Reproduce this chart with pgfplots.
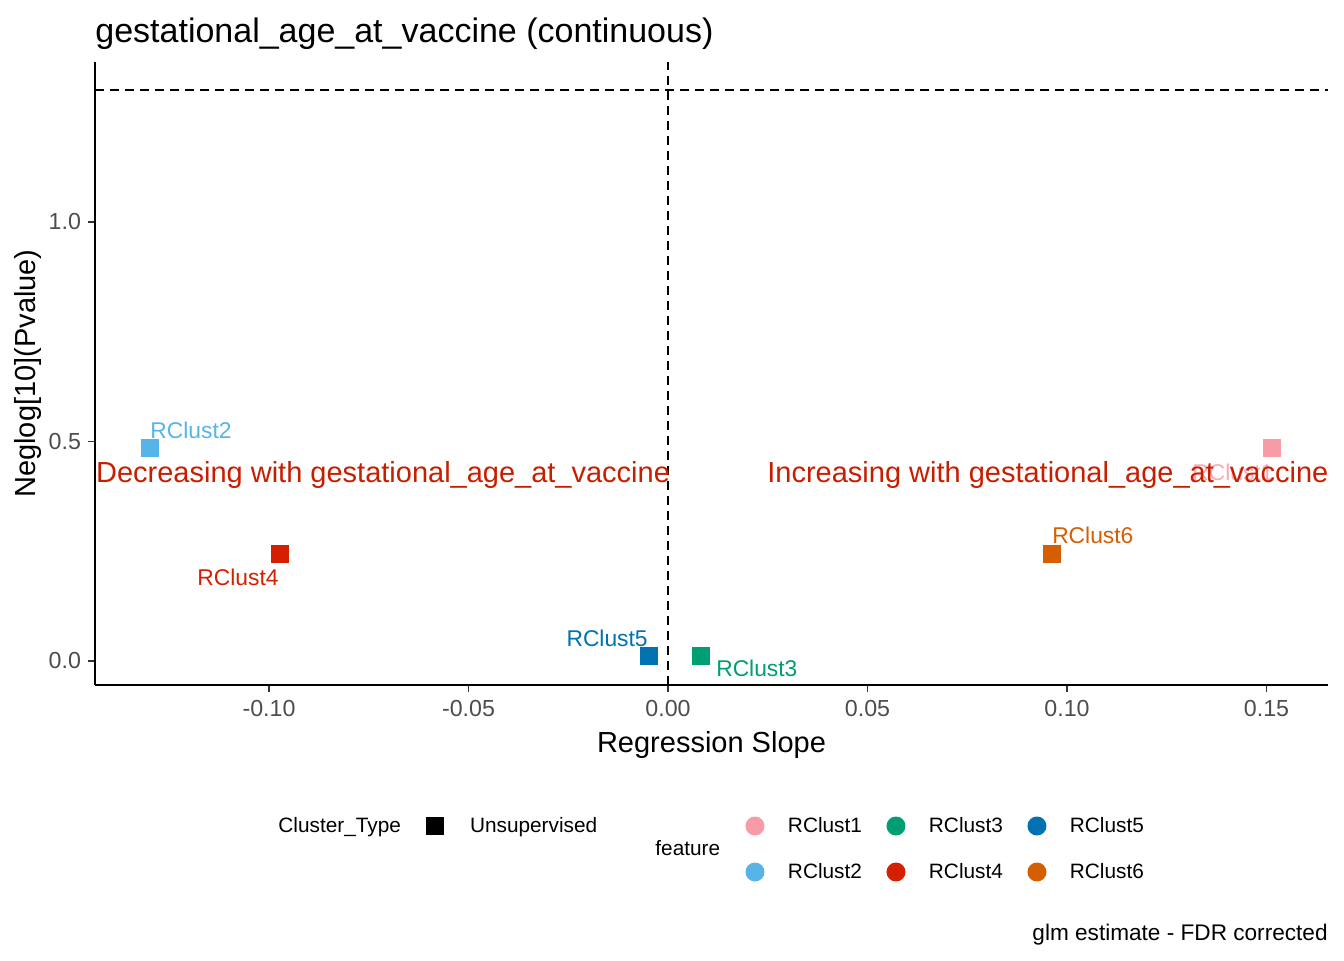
\documentclass[border=0pt]{standalone}
\usepackage{fontspec}
\setmainfont{Liberation Sans}
\usepackage{pgfplots}
\pgfplotsset{compat=1.18}
\definecolor{cA}{RGB}{247,156,166}
\definecolor{cB}{HTML}{56B4E9}
\definecolor{cC}{HTML}{009E73}
\definecolor{cD}{RGB}{212,32,0}
\definecolor{cE}{HTML}{0072B2}
\definecolor{cF}{HTML}{D55E00}
\definecolor{annred}{RGB}{200,30,0}
\definecolor{tickgray}{HTML}{333333}
\definecolor{labgray}{HTML}{4D4D4D}
\begin{document}
\begin{tikzpicture}
\useasboundingbox (0,0) rectangle (672pt,480pt);
\begin{axis}[
 at={(47.5pt,137.5pt)}, anchor=south west,
 scale only axis, width=616.5pt, height=311.5pt,
 xmin=-0.1436, xmax=0.1654, ymin=-0.0547, ymax=1.364,
 axis x line*=bottom, axis y line*=left,
 axis line style={line width=0.9pt, black, -},
 xtick={-0.1,-0.05,0,0.05,0.1,0.15},
 xticklabels={-0.10,-0.05,0.00,0.05,0.10,0.15},
 ytick={0,0.5,1}, yticklabels={0.0,0.5,1.0},
 tick align=outside, major tick length=3.5pt,
 tick style={line width=0.9pt, color=tickgray},
 ticklabel style={font=\fontsize{11.6}{13}\selectfont, text=labgray},
 xticklabel style={yshift=-0.5pt},
 clip=false,
 legend columns=3,
 legend cell align=left,
 legend style={draw=none, fill=none, inner sep=0pt, outer sep=0pt,
   at={(0.52149,-0.21027)}, anchor=north west,
   font=\fontsize{10.4}{12}\selectfont,
   nodes={inner sep=0pt, text height=8pt, text depth=2pt},
   row sep=13pt,
   /tikz/every odd column/.append style={column sep=8pt},
   /tikz/every even column/.append style={column sep=8.5pt}},
]
\addplot[line width=0.9pt, dash pattern=on 4.5pt off 3pt, forget plot] coordinates {(0,-0.0547) (0,1.364)};
\addplot[line width=0.9pt, dash pattern=on 4.5pt off 3pt, forget plot] coordinates {(-0.1436,1.30103) (0.1654,1.30103)};
\addplot[only marks, mark=square*, mark size=4.25pt, color=cA, forget plot] coordinates {(0.1514,0.485)};
\addplot[only marks, mark=square*, mark size=4.25pt, color=cB, forget plot] coordinates {(-0.1298,0.485)};
\addplot[only marks, mark=square*, mark size=4.25pt, color=cC, forget plot] coordinates {(0.0083,0.011)};
\addplot[only marks, mark=square*, mark size=4.25pt, color=cD, forget plot] coordinates {(-0.0972,0.244)};
\addplot[only marks, mark=square*, mark size=4.25pt, color=cE, forget plot] coordinates {(-0.0048,0.011)};
\addplot[only marks, mark=square*, mark size=4.25pt, color=cF, forget plot] coordinates {(0.0962,0.244)};
\node[anchor=west, inner sep=0pt, text=cB, font=\fontsize{11.4}{13}\selectfont] at (axis cs:-0.1298,0.526) {RClust2};
\node[anchor=east, inner sep=0pt, text=cD, font=\fontsize{11.4}{13}\selectfont] at (axis cs:-0.0975,0.191) {RClust4};
\node[anchor=east, inner sep=0pt, text=cE, font=\fontsize{11.4}{13}\selectfont] at (axis cs:-0.0050,0.0524) {RClust5};
\node[anchor=west, inner sep=0pt, text=cC, font=\fontsize{11.4}{13}\selectfont] at (axis cs:0.0120,-0.016) {RClust3};
\node[anchor=west, inner sep=0pt, text=cF, font=\fontsize{11.4}{13}\selectfont] at (axis cs:0.0962,0.285) {RClust6};
\node[anchor=west, inner sep=0pt, text=cA, opacity=0.85, font=\fontsize{11.4}{13}\selectfont] at (axis cs:0.1313,0.4305) {RClust1};
\node[inner sep=0pt, text=annred, font=\fontsize{14.5}{16}\selectfont] at (axis cs:-0.0714,0.4235) {Decreasing with gestational\_age\_at\_vaccine};
\node[inner sep=0pt, text=annred, font=\fontsize{14.5}{16}\selectfont] at (axis cs:0.0952,0.4235) {Increasing with gestational\_age\_at\_vaccine};
\addlegendimage{legend image code/.code={\path[draw=none,fill=none] (0pt,0pt) rectangle (17pt,0pt); \fill[cA,draw=none] (8.5pt,0pt) circle (4.75pt);}}
\addlegendentry{RClust1}
\addlegendimage{legend image code/.code={\path[draw=none,fill=none] (0pt,0pt) rectangle (17pt,0pt); \fill[cC,draw=none] (8.5pt,0pt) circle (4.75pt);}}
\addlegendentry{RClust3}
\addlegendimage{legend image code/.code={\path[draw=none,fill=none] (0pt,0pt) rectangle (17pt,0pt); \fill[cE,draw=none] (8.5pt,0pt) circle (4.75pt);}}
\addlegendentry{RClust5}
\addlegendimage{legend image code/.code={\path[draw=none,fill=none] (0pt,0pt) rectangle (17pt,0pt); \fill[cB,draw=none] (8.5pt,0pt) circle (4.75pt);}}
\addlegendentry{RClust2}
\addlegendimage{legend image code/.code={\path[draw=none,fill=none] (0pt,0pt) rectangle (17pt,0pt); \fill[cD,draw=none] (8.5pt,0pt) circle (4.75pt);}}
\addlegendentry{RClust4}
\addlegendimage{legend image code/.code={\path[draw=none,fill=none] (0pt,0pt) rectangle (17pt,0pt); \fill[cF,draw=none] (8.5pt,0pt) circle (4.75pt);}}
\addlegendentry{RClust6}
\end{axis}
\begin{axis}[
 at={(47.5pt,137.5pt)}, anchor=south west,
 scale only axis, width=616.5pt, height=311.5pt,
 xmin=0, xmax=1, ymin=0, ymax=1, hide axis,
 legend cell align=left,
 legend style={draw=none, fill=none, inner sep=0pt, outer sep=0pt,
   at={(0.26156,-0.21027)}, anchor=north west,
   font=\fontsize{10.4}{12}\selectfont,
   nodes={inner sep=0pt, text height=8pt, text depth=2pt},
   /tikz/every odd column/.append style={column sep=8.75pt}},
]
\addlegendimage{legend image code/.code={\path[draw=none,fill=none] (0pt,0pt) rectangle (17.5pt,0pt); \fill[black,draw=none] (4.375pt,-4.375pt) rectangle (13.125pt,4.375pt);}}
\addlegendentry{Unsupervised}
\end{axis}
\node[anchor=base west, inner sep=0pt, font=\fontsize{17}{20}\selectfont] at (47.5pt,458.5pt) {gestational\_age\_at\_vaccine (continuous)};
\node[rotate=90, inner sep=0pt, font=\fontsize{14.5}{16}\selectfont] at (14pt,293.25pt) {Neglog[10](Pvalue)};
\node[anchor=base, inner sep=0pt, font=\fontsize{14.5}{16}\selectfont] at (355.75pt,104pt) {Regression Slope};
\node[anchor=west, inner sep=0pt, text height=8pt, text depth=2pt, font=\fontsize{10.4}{12}\selectfont] at (139pt,67pt) {Cluster\_Type};
\node[anchor=west, inner sep=0pt, text height=8pt, text depth=2pt, font=\fontsize{10.4}{12}\selectfont] at (327.5pt,55.5pt) {feature};
\node[anchor=base east, inner sep=0pt, font=\fontsize{11.3}{13}\selectfont] at (664pt,9.75pt) {glm estimate - FDR corrected};
\end{tikzpicture}
\end{document}
